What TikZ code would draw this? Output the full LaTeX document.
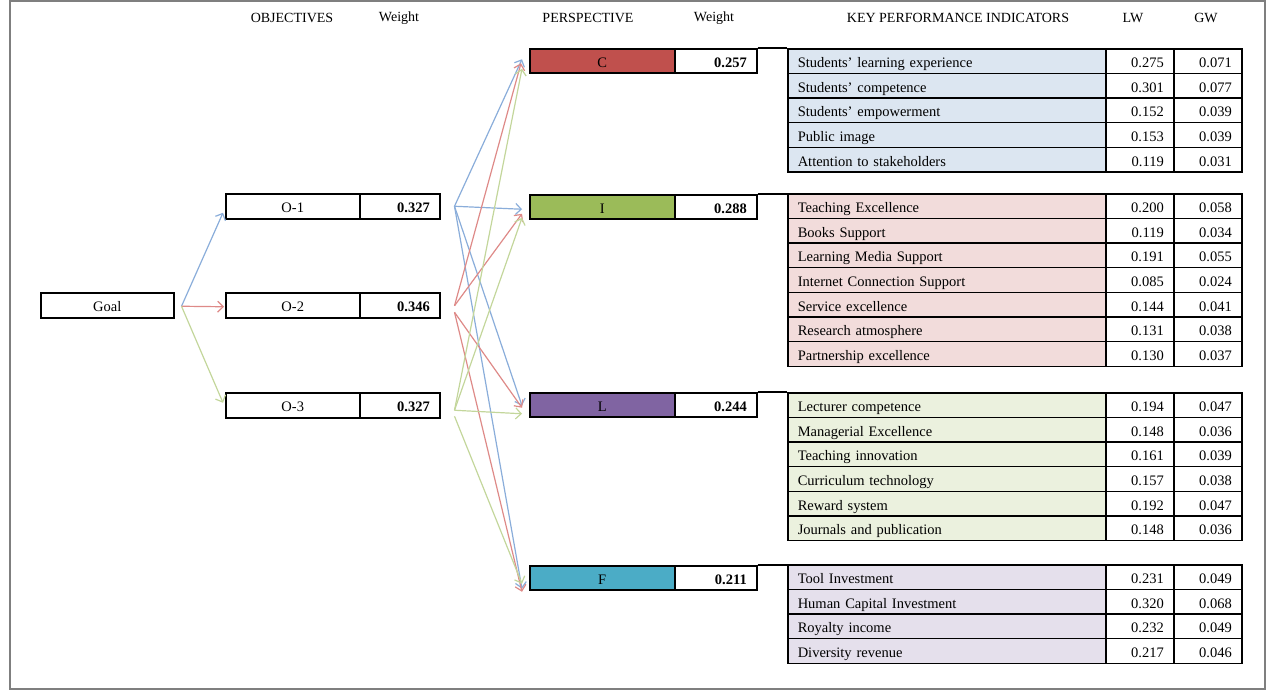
\documentclass[tikz,border=0pt]{standalone}
\usepackage{fontspec}
\setmainfont{Liberation Serif}
\usetikzlibrary{arrows.meta}
\definecolor{pRed}{HTML}{C0504D}
\definecolor{pGreen}{HTML}{9BBB59}
\definecolor{pPurple}{HTML}{8064A2}
\definecolor{pAqua}{HTML}{4BACC6}
\definecolor{tBlue}{HTML}{DCE6F1}
\definecolor{tPink}{HTML}{F2DCDB}
\definecolor{tGreen}{HTML}{EBF1DE}
\definecolor{tLilac}{HTML}{E5E0EC}
\definecolor{aBlue}{HTML}{8AADDA}
\definecolor{aRed}{HTML}{DE8A88}
\definecolor{aGreen}{HTML}{C3D69B}
\definecolor{frameGray}{HTML}{7F7F7F}
\newcommand\kpitab[4]{%
  \foreach \kn/\klw/\kgw [count=\ki] in {#4} {
    \node[kname, fill=#3] (#1\ki n) at (787,{#2+(\ki-1)*24.65}) {\kn};
    \node[knum] (#1\ki l) at (1105,{#2+(\ki-1)*24.65}) {\klw};
    \node[knum] (#1\ki g) at (1173,{#2+(\ki-1)*24.65}) {\kgw};
  }}
\begin{document}
\begin{tikzpicture}[x=1pt,y=-1pt,
  font=\fontsize{14.5}{16}\selectfont,
  cellbox/.style={draw=black, line width=1.5pt, rectangle, inner sep=0pt, anchor=north west, text height=13pt, text depth=0pt},
  namecell/.style={cellbox, minimum width=134pt, minimum height=25pt},
  wcell/.style={cellbox, minimum height=25pt, text width=60pt, inner xsep=10pt, align=right, font=\fontsize{14.5}{16}\selectfont\bfseries},
  pcell/.style={cellbox, minimum width=145pt, minimum height=24pt},
  pwcell/.style={cellbox, minimum height=24pt, text width=62pt, inner xsep=10pt, align=right, font=\fontsize{14.5}{16}\selectfont\bfseries},
  kname/.style={cellbox, minimum height=24.65pt, text width=298pt, inner xsep=10pt, align=left},
  knum/.style={cellbox, minimum height=24.65pt, text width=48pt, inner xsep=10pt, align=right},
  arr/.style={line width=1.2pt, -{Straight Barb[length=5.5pt,width=11pt]}},
  hdr/.style={inner sep=0pt, font=\fontsize{14}{16}\selectfont}
]
\useasboundingbox (0,0) rectangle (1270,691);
\draw[frameGray, line width=1.5pt] (10,1) rectangle (1265,689);

% headers
\node[hdr] (hobj) at (292,18) {OBJECTIVES};
\node[hdr] (hw1) at (399,18) {Weight};
\node[hdr] (hper) at (588,18) {PERSPECTIVE};
\node[hdr] (hw2) at (714,18) {Weight};
\node[hdr] (hkpi) at (958,18) {KEY PERFORMANCE INDICATORS};
\node[hdr] (hlw) at (1133,18) {LW};
\node[hdr] (hgw) at (1206,18) {GW};

% goal
\node[cellbox, minimum width=133pt, minimum height=25pt] (goal) at (40,292) {Goal};

% objectives
\node[namecell] (o1n) at (225,193) {O-1};
\node[wcell] (o1w) at (359,193) {0.327};
\node[namecell] (o2n) at (225,292) {O-2};
\node[wcell] (o2w) at (359,292) {0.346};
\node[namecell] (o3n) at (225,392) {O-3};
\node[wcell] (o3w) at (359,392) {0.327};

% perspectives
\node[pcell, fill=pRed] (pc) at (529,48) {C};
\node[pwcell] (pcw) at (674,48) {0.257};
\node[pcell, fill=pGreen] (pi) at (529,194) {I};
\node[pwcell] (piw) at (674,194) {0.288};
\node[pcell, fill=pPurple] (pl) at (529,392) {L};
\node[pwcell] (plw) at (674,392) {0.244};
\node[pcell, fill=pAqua] (pf) at (529,565) {F};
\node[pwcell] (pfw) at (674,565) {0.211};

% KPI tables
\kpitab{c}{48}{tBlue}{Students' learning experience/0.275/0.071, Students' competence/0.301/0.077, Students' empowerment/0.152/0.039, Public image/0.153/0.039, Attention to stakeholders/0.119/0.031}
\kpitab{i}{193}{tPink}{Teaching Excellence/0.200/0.058, Books Support/0.119/0.034, Learning Media Support/0.191/0.055, Internet Connection Support/0.085/0.024, Service excellence/0.144/0.041, Research atmosphere/0.131/0.038, Partnership excellence/0.130/0.037}
\kpitab{l}{392}{tGreen}{Lecturer competence/0.194/0.047, Managerial Excellence/0.148/0.036, Teaching innovation/0.161/0.039, Curriculum technology/0.157/0.038, Reward system/0.192/0.047, Journals and publication/0.148/0.036}
\kpitab{f}{564}{tLilac}{Tool Investment/0.231/0.049, Human Capital Investment/0.320/0.068, Royalty income/0.232/0.049, Diversity revenue/0.217/0.046}

% links perspective weight -> table
\draw[line width=1.5pt] (pcw.north east) -- (pcw.north east -| c1n.west);
\draw[line width=1.5pt] (piw.north east) -- (piw.north east -| i1n.west);
\draw[line width=1.5pt] (plw.north east) -- (plw.north east -| l1n.west);
\draw[line width=1.5pt] (pfw.north east) -- (pfw.north east -| f1n.west);

% goal -> objectives
\coordinate (gs) at ([shift={(7,1)}]goal.east);
\draw[arr, aBlue] (gs) -- ([shift={(-2,6.5)}]o1n.west);
\draw[arr, aRed] (gs) -- ([shift={(-1,1.5)}]o2n.west);
\draw[arr, aGreen] (gs) -- ([shift={(-2,-2.5)}]o3n.west);

% objective -> perspective
\coordinate (s1) at ([shift={(14,0)}]o1w.east);
\coordinate (s2a) at ([shift={(14,0.5)}]o2w.east);
\coordinate (s2b) at ([shift={(14,7)}]o2w.east);
\coordinate (s3a) at ([shift={(14,5)}]o3w.east);
\coordinate (s3b) at ([shift={(14,11)}]o3w.east);

\draw[arr, aBlue] (s1) -- ([shift={(-7,-1.5)}]pc.west);
\draw[arr, aBlue] (s1) -- ([shift={(-7,2.5)}]pi.west);
\draw[arr, aBlue] (s1) -- ([shift={(-7,1)}]pl.west);
\draw[arr, aBlue] (s1) -- ([shift={(-7,11)}]pf.west);

\draw[arr, aRed] (s2a) -- ([shift={(-8,2.5)}]pc.west);
\draw[arr, aRed] (s2a) -- ([shift={(-7,7)}]pi.west);
\draw[arr, aRed] (s2b) -- ([shift={(-7,3)}]pl.west);
\draw[arr, aRed] (s2b) -- ([shift={(-7,14)}]pf.west);

\draw[arr, aGreen] (s3a) -- ([shift={(-7,8)}]pc.west);
\draw[arr, aGreen] (s3a) -- ([shift={(-7,11)}]pi.west);
\draw[arr, aGreen] (s3a) -- ([shift={(-7,9)}]pl.west);
\draw[arr, aGreen] (s3b) -- ([shift={(-7,6)}]pf.west);
\end{tikzpicture}
\end{document}
